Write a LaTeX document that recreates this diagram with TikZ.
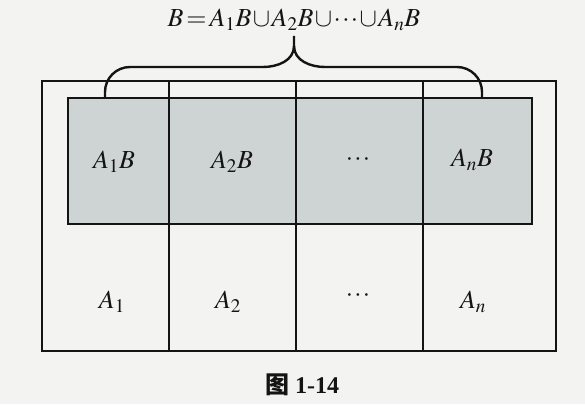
\documentclass[tikz,border=0pt]{standalone}
\usepackage{mathptmx}
\usepackage{fontspec}
\setmainfont{Liberation Serif}
\newfontfamily\cjk{Noto Sans CJK SC}
\definecolor{bgc}{HTML}{F3F4F2}
\definecolor{shadec}{HTML}{CED3D3}
\definecolor{inkc}{HTML}{141414}
\newcommand{\tightmath}{\thickmuskip=2mu\relax\medmuskip=1mu\relax}
\newcommand{\tdots}{\mathord{\cdotp\mkern-1mu\cdotp\mkern-1mu\cdotp}}
\tikzset{
  frame/.style={draw=inkc, line width=2.6pt},
  bracepath/.style={draw=inkc, line width=2.4pt},
  celllabel/.style={text=inkc, font=\fontsize{26}{30}\selectfont, inner sep=0pt},
  headlabel/.style={text=inkc, font=\fontsize{26}{30}\selectfont, inner sep=0pt},
  caplabel/.style={text=inkc, font=\fontsize{24}{28}\selectfont\bfseries, inner sep=0pt}
}
\begin{document}
\begin{tikzpicture}[x=1pt,y=-1pt]
\fill[bgc] (0,0) rectangle (585,404);
\useasboundingbox (0,0) rectangle (585,404);
% shaded region B
\fill[shadec] (68,98) rectangle (532,224);
% cell dividers
\draw[frame] (169,81) -- (169,351);
\draw[frame] (296,81) -- (296,351);
\draw[frame] (423,81) -- (423,351);
% shaded border
\draw[frame] (68,98) rectangle (532,224);
% outer rectangle
\draw[frame] (42,81) rectangle (556,351);
% brace
\coordinate (bl) at (105,97);
\coordinate (br) at (482,97);
\coordinate (tip) at (294,36);
\draw[bracepath, line cap=butt]
  (bl) -- (105,92) to[out=90,in=180] (130,67) -- (263,67)
  to[out=0,in=-90] (294,46) -- (tip);
\draw[bracepath, line cap=butt]
  (294,46) to[out=-90,in=180] (325,67) -- (457,67)
  to[out=0,in=90] (482,92) -- (br);
% header
\node[headlabel, anchor=base] (head) at (294,27) {\tightmath$B=A_1B\cup A_2B\cup\tdots\cup A_nB$};
% labels in B
\node[celllabel] (a1b) at (114,162) {$A_1B$};
\node[celllabel] (a2b) at (232,162) {$A_2B$};
\node[celllabel] (dotsb) at (358,160) {$\tdots$};
\node[celllabel] (anb) at (472,160) {$A_nB$};
% labels of A
\node[celllabel] (a1) at (112,302) {$A_1$};
\node[celllabel] (a2) at (228,302) {$A_2$};
\node[celllabel] (dotsa) at (358,296) {$\tdots$};
\node[celllabel] (an) at (473,302) {$A_n$};
% caption
\node[caplabel] (cap) at (302,385) {{\cjk\bfseries 图} 1-14};
\end{tikzpicture}
\end{document}
